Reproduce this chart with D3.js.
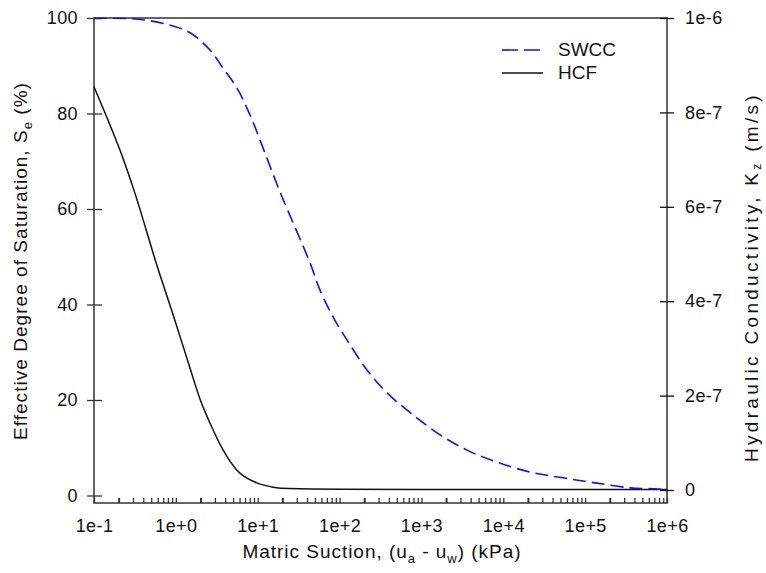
<!DOCTYPE html>
<html>
<head>
<meta charset="utf-8">
<script src="https://cdn.jsdelivr.net/npm/d3@7"></script>
<style>
  body { margin: 0; background: #fff; }
  svg { display: block; font-family: "Liberation Sans", Arial, sans-serif; }
</style>
</head>
<body>
<svg id="chart" width="766" height="573"></svg>
<script>
// suction (kPa) and effective degree of saturation (%)
const swccSuction = [0.1, 0.32, 0.77, 1.49, 2.61, 3.77, 5.58, 8.05, 11.6, 18.7, 43.6, 57.7, 83.2, 123, 216, 380, 789, 1690, 3610, 8370, 21200, 53700, 138000, 355000, 676000, 1000000]
const swccSe = [99.9, 99.8, 98.7, 96.9, 93.3, 89.5, 85.3, 79.7, 72.8, 63.6, 48.7, 43.0, 37.4, 32.6, 26.3, 21.5, 16.9, 12.7, 9.5, 7.0, 4.9, 3.7, 2.6, 1.6, 1.4, 1.2]

// suction (kPa) and hydraulic conductivity (m/s)
const hcfSuction = [0.1, 0.157, 0.226, 0.316, 0.589, 0.923, 1.49, 1.97, 2.61, 3.77, 5.58, 9.77, 15.4, 24.5, 100, 1000, 10000, 100000, 1000000]
const hcfK = [8.54e-7, 7.73e-7, 7.03e-7, 6.29e-7, 4.75e-7, 3.72e-7, 2.58e-7, 1.93e-7, 1.42e-7, 8.5e-8, 4.2e-8, 1.5e-8, 6e-9, 3e-9, 1.5e-9, 1e-9, 1e-9, 1e-9, 1e-9]

const xDecades = [0.1, 1, 10, 100, 1000, 10000, 100000, 1000000]
const leftTicks = [0, 20, 40, 60, 80, 100]
const rightTicks = [0, 2e-7, 4e-7, 6e-7, 8e-7, 1e-6]
const rightTickLabels = ['0', '2e-7', '4e-7', '6e-7', '8e-7', '1e-6']

const plot = { left: 94, right: 667, top: 18, bottom: 503 }
const fontSize = 18
const axisColor = '#333'
const blue = '#1010fa'

const svg = d3.select('#chart')

const x = d3.scaleLog().domain([0.1, 1e6]).range([plot.left, plot.right])
const yLeft = d3.scaleLinear().domain([0, 100]).range([495.5, plot.top])
const yRight = d3.scaleLinear().domain([0, 1e-6]).range([490, plot.top])

// minor ticks at every 1..9 multiple of each decade
const xMinor = []
xDecades.forEach(d => {
  for (let m = 1; m <= 9; m++) {
    const v = d * m
    if (v <= 1e6 + 1) xMinor.push(v)
  }
})

function expLabel (v) {
  const e = Math.round(Math.log10(v))
  return '1e' + (e >= 0 ? '+' + e : e)
}

function styleTickText (sel) {
  sel.attr('fill', '#111')
    .style('font-size', fontSize + 'px')
    .style('font-family', '"Liberation Sans", Arial, sans-serif')
    .style('letter-spacing', '0.4px')
}

// stretch a title to the width it takes in the reference
function fitLength (text, target) {
  const n = text.text().length
  const len = text.node().getComputedTextLength()
  text.style('letter-spacing', ((target - len) / n) + 'px')
}

// frame
svg.append('rect')
  .attr('x', plot.left)
  .attr('y', plot.top)
  .attr('width', plot.right - plot.left)
  .attr('height', plot.bottom - plot.top)
  .attr('fill', 'none')
  .attr('stroke', axisColor)
  .attr('stroke-width', 1.5)

// bottom axis: inward ticks, labels only on decades
const xAxis = svg.append('g')
  .attr('transform', `translate(0,${plot.bottom})`)
  .call(d3.axisBottom(x)
    .tickValues(xMinor)
    .tickSize(-5)
    .tickFormat(v => xDecades.some(d => Math.abs(d - v) / d < 1e-6) ? expLabel(v) : ''))
xAxis.select('.domain').remove()
xAxis.selectAll('.tick line')
  .attr('stroke', axisColor)
  .attr('stroke-width', (d, i) => (i % 9 === 1 ? 2 : 1.3))
xAxis.selectAll('.tick text')
  .attr('y', 29)
  .attr('dy', 0)
  .call(styleTickText)

// left axis: ticks cross the line
const leftAxis = svg.append('g')
  .attr('transform', `translate(${plot.left},0)`)
  .call(d3.axisLeft(yLeft).tickValues(leftTicks).tickSize(7).tickPadding(9))
leftAxis.select('.domain').remove()
leftAxis.selectAll('.tick line').attr('x1', 8).attr('stroke', axisColor).attr('stroke-width', 1.3)
leftAxis.selectAll('.tick text').call(styleTickText)

// right axis
const rightAxis = svg.append('g')
  .attr('transform', `translate(${plot.right},0)`)
  .call(d3.axisRight(yRight).tickValues(rightTicks).tickSize(7).tickPadding(11)
    .tickFormat((v, i) => rightTickLabels[i]))
rightAxis.select('.domain').remove()
rightAxis.selectAll('.tick line').attr('x1', -7).attr('stroke', '#111').attr('stroke-width', 1.3)
rightAxis.selectAll('.tick text').call(styleTickText)

// curves
const swccLine = d3.line()
  .x((d, i) => x(swccSuction[i]))
  .y(d => yLeft(d))
  .curve(d3.curveCatmullRom)

const hcfLine = d3.line()
  .x((d, i) => x(hcfSuction[i]))
  .y(d => yRight(d))
  .curve(d3.curveMonotoneX)

svg.append('path')
  .datum(hcfK)
  .attr('d', hcfLine)
  .attr('fill', 'none')
  .attr('stroke', '#111')
  .attr('stroke-width', 1.5)

svg.append('path')
  .datum(swccSe)
  .attr('d', swccLine)
  .attr('fill', 'none')
  .attr('stroke', blue)
  .attr('stroke-width', 1.6)
  .attr('stroke-dasharray', '13,6')

// legend
const legend = svg.append('g')
legend.append('line')
  .attr('x1', 502).attr('x2', 541).attr('y1', 50).attr('y2', 50)
  .attr('stroke', blue).attr('stroke-width', 1.6).attr('stroke-dasharray', '16,6')
legend.append('line')
  .attr('x1', 502).attr('x2', 543).attr('y1', 73).attr('y2', 73)
  .attr('stroke', '#111').attr('stroke-width', 1.5)
legend.append('text').attr('x', 558).attr('y', 56).text('SWCC')
  .attr('fill', '#111').style('font-size', '19px')
legend.append('text').attr('x', 558).attr('y', 79).text('HCF')
  .attr('fill', '#111').style('font-size', '19px')

// axis titles
const xTitle = svg.append('text')
  .attr('x', 382)
  .attr('y', 558)
  .attr('text-anchor', 'middle')
  .attr('fill', '#111')
  .style('font-size', '19px')
xTitle.append('tspan').text('Matric Suction, (u')
xTitle.append('tspan').text('a').attr('dy', 5).style('font-size', '13px')
xTitle.append('tspan').text(' - u').attr('dy', -5)
xTitle.append('tspan').text('w').attr('dy', 5).style('font-size', '13px')
xTitle.append('tspan').text(') (kPa)').attr('dy', -5)
fitLength(xTitle, 279)

const yTitle = svg.append('text')
  .attr('transform', 'translate(27,261) rotate(-90)')
  .attr('text-anchor', 'middle')
  .attr('fill', '#111')
  .style('font-size', '19px')
yTitle.append('tspan').text('Effective Degree of Saturation, S')
yTitle.append('tspan').text('e').attr('dy', 5).style('font-size', '13px')
yTitle.append('tspan').text(' (%)').attr('dy', -5)
fitLength(yTitle, 358)

const y2Title = svg.append('text')
  .attr('transform', 'translate(758,277) rotate(-90)')
  .attr('text-anchor', 'middle')
  .attr('fill', '#111')
  .style('font-size', '19px')
y2Title.append('tspan').text('Hydraulic Conductivity, K')
y2Title.append('tspan').text('z').attr('dy', 3).style('font-size', '12px')
y2Title.append('tspan').text(' (m/s)').attr('dy', -3)
fitLength(y2Title, 370)
</script>
</body>
</html>
